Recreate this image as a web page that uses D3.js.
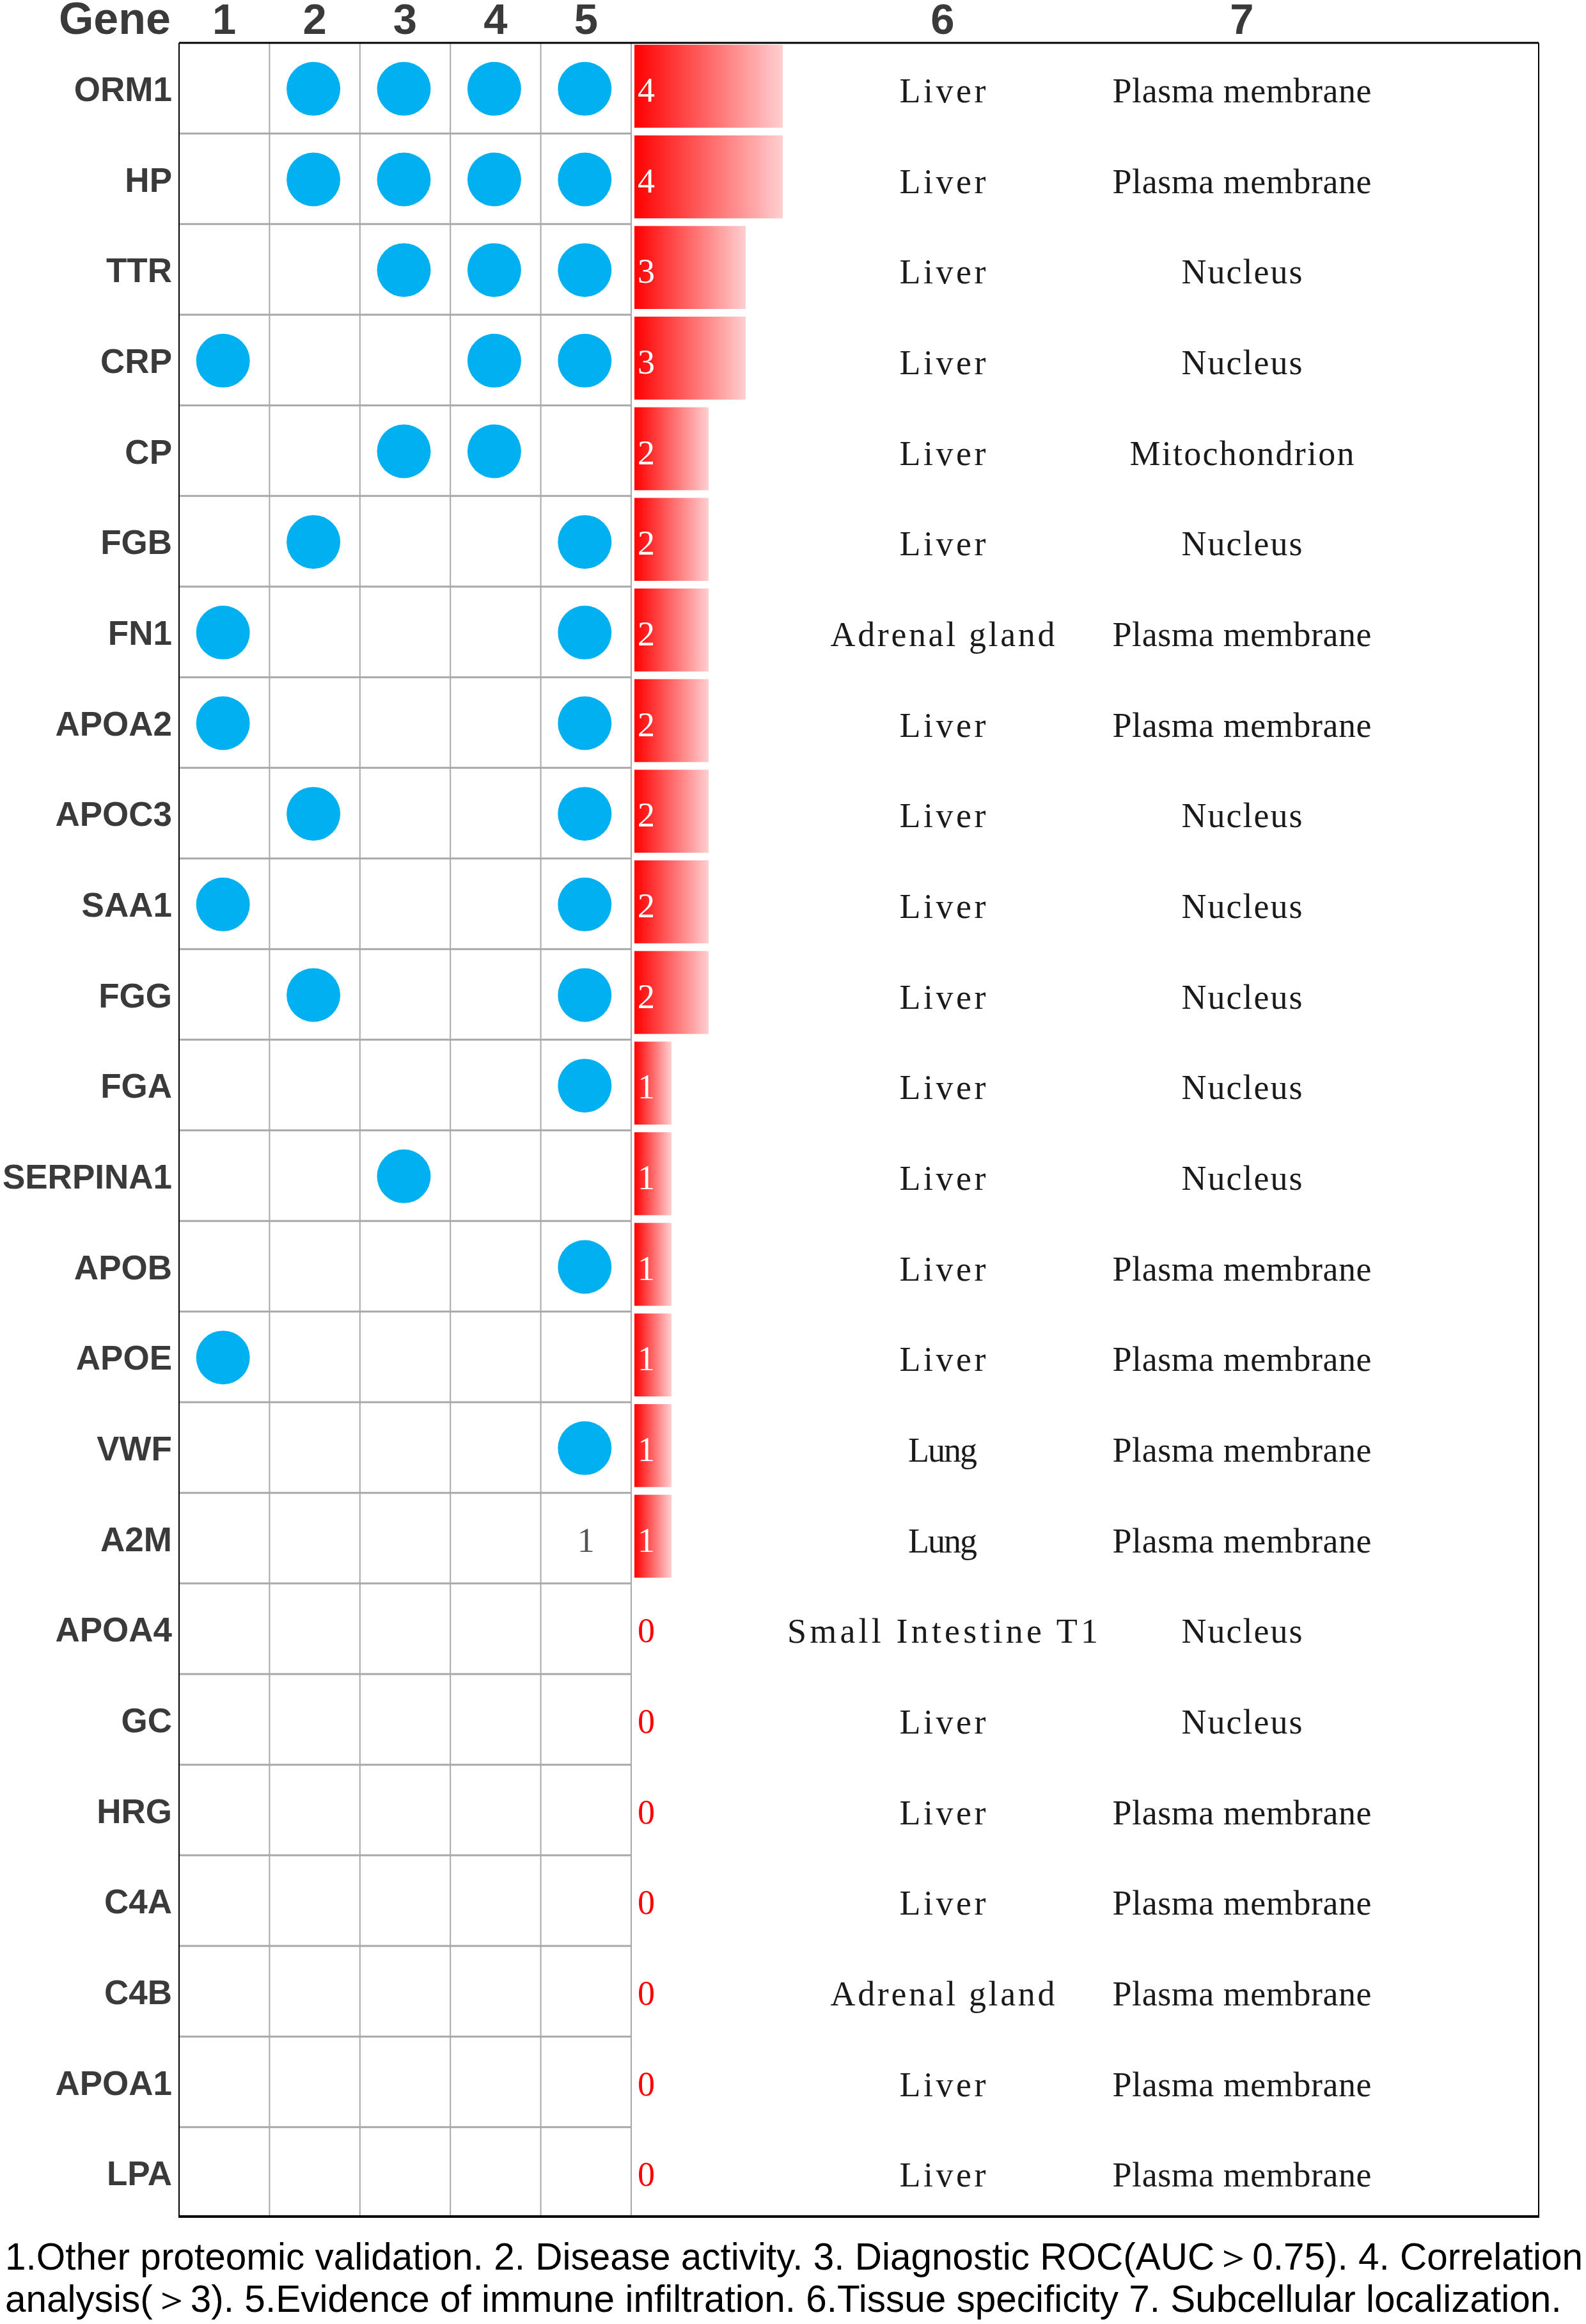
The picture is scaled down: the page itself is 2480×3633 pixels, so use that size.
<!DOCTYPE html>
<html>
<head>
<meta charset="utf-8">
<script src="https://cdn.jsdelivr.net/npm/d3@7"></script>
<style>
  body { margin: 0; background: #fff; }
</style>
</head>
<body>
<div id="chart"></div>
<script>
/* DATA */
const genes = ["ORM1", "HP", "TTR", "CRP", "CP", "FGB", "FN1", "APOA2", "APOC3", "SAA1", "FGG", "FGA",
  "SERPINA1", "APOB", "APOE", "VWF", "A2M", "APOA4", "GC", "HRG", "C4A", "C4B", "APOA1", "LPA"];
const evidenceCols = [1, 2, 3, 4, 5];
// which of columns 1-5 have a dot, per gene
const evidence = [
  [2, 3, 4, 5], [2, 3, 4, 5], [3, 4, 5], [1, 4, 5], [3, 4], [2, 5], [1, 5], [1, 5], [2, 5], [1, 5], [2, 5], [5],
  [3], [5], [1], [5], [], [], [], [], [], [], [], []
];
// A2M shows a plain "1" in column 5 instead of a dot
const textMarks = [{ gene: "A2M", col: 5, label: "1" }];
const scores = [4, 4, 3, 3, 2, 2, 2, 2, 2, 2, 2, 1, 1, 1, 1, 1, 1, 0, 0, 0, 0, 0, 0, 0];
const tissue = ["Liver", "Liver", "Liver", "Liver", "Liver", "Liver", "Adrenal gland", "Liver", "Liver", "Liver",
  "Liver", "Liver", "Liver", "Liver", "Liver", "Lung", "Lung", "Small Intestine T1", "Liver", "Liver", "Liver",
  "Adrenal gland", "Liver", "Liver"];
const subcellular = ["Plasma membrane", "Plasma membrane", "Nucleus", "Nucleus", "Mitochondrion", "Nucleus",
  "Plasma membrane", "Plasma membrane", "Nucleus", "Nucleus", "Nucleus", "Nucleus", "Nucleus", "Plasma membrane",
  "Plasma membrane", "Plasma membrane", "Plasma membrane", "Nucleus", "Nucleus", "Plasma membrane",
  "Plasma membrane", "Plasma membrane", "Plasma membrane", "Plasma membrane"];
const headerLabels = ["1", "2", "3", "4", "5", "6", "7"];
const captionLines = [
  "1.Other proteomic validation. 2. Disease activity. 3. Diagnostic ROC(AUC＞0.75). 4. Correlation",
  "analysis(＞3). 5.Evidence of immune infiltration. 6.Tissue specificity 7. Subcellular localization."
];

/* LAYOUT */
const width = 2480, height = 3633;
const gridLeft = 280, gridTop = 67, gridBottom = 3467, gridRight = 2406;
const dotRight = 987;
const col6X = 1474, col7X = 1942;
const boldFont = "'Liberation Sans', Arial, sans-serif";
const serifFont = "'Liberation Serif', 'DejaVu Serif', serif";
const serifSize = 54, charW = 27; // half-width glyph advance, like the original CJK serif

const rows = genes.map((g, i) => ({
  gene: g, dots: evidence[i], score: scores[i], tissue: tissue[i], loc: subcellular[i]
}));

// SCALES
const yScale = d3.scaleBand().domain(genes).range([gridTop, gridBottom]);
const xScale = d3.scaleBand().domain(evidenceCols).range([gridLeft, dotRight]);
const barScale = d3.scaleLinear().domain([0, 4]).range([dotRight + 5, dotRight + 237]);
const rowH = yScale.bandwidth();

const svg = d3.select("#chart")
  .append("svg")
  .attr("width", width)
  .attr("height", height)
  .style("background", "#fff");

const defs = svg.append("defs");
const grad = defs.append("linearGradient")
  .attr("id", "barGrad")
  .attr("x1", "0%").attr("x2", "100%").attr("y1", "0%").attr("y2", "0%");
grad.append("stop").attr("offset", "0%").attr("stop-color", "#ff0000");
grad.append("stop").attr("offset", "100%").attr("stop-color", "#ffcfd0");

// GRID LINES
svg.selectAll("line.vgrid")
  .data(evidenceCols.slice(1))
  .join("line")
  .attr("class", "vgrid")
  .attr("x1", d => xScale(d)).attr("x2", d => xScale(d))
  .attr("y1", gridTop).attr("y2", gridBottom)
  .attr("stroke", "#a8a8a8")
  .attr("stroke-width", 2);

svg.append("line")
  .attr("x1", dotRight).attr("x2", dotRight)
  .attr("y1", gridTop).attr("y2", gridBottom)
  .attr("stroke", "#a8a8a8")
  .attr("stroke-width", 2);

svg.selectAll("line.hgrid")
  .data(genes.slice(1))
  .join("line")
  .attr("class", "hgrid")
  .attr("x1", gridLeft).attr("x2", dotRight)
  .attr("y1", d => yScale(d)).attr("y2", d => yScale(d))
  .attr("stroke", "#a8a8a8")
  .attr("stroke-width", 3);

// outer frame
svg.append("line").attr("x1", gridLeft).attr("x2", gridLeft).attr("y1", gridTop).attr("y2", gridBottom)
  .attr("stroke", "#000").attr("stroke-width", 2);
svg.append("line").attr("x1", gridRight).attr("x2", gridRight).attr("y1", gridTop).attr("y2", gridBottom)
  .attr("stroke", "#000").attr("stroke-width", 2);
svg.append("line").attr("x1", gridLeft).attr("x2", gridRight).attr("y1", gridTop).attr("y2", gridTop)
  .attr("stroke", "#000").attr("stroke-width", 3);
svg.append("line").attr("x1", gridLeft).attr("x2", gridRight).attr("y1", gridBottom - 2).attr("y2", gridBottom - 2)
  .attr("stroke", "#000").attr("stroke-width", 4);

// HEADER
const headerX = evidenceCols.map(c => xScale(c) + xScale.bandwidth() / 2).concat([col6X, col7X]);
svg.append("text")
  .attr("x", 267).attr("y", 53)
  .attr("text-anchor", "end")
  .attr("font-family", boldFont).attr("font-weight", "bold").attr("font-size", 70)
  .attr("fill", "#3a3a3a")
  .text("Gene");
svg.selectAll("text.head")
  .data(headerLabels)
  .join("text")
  .attr("class", "head")
  .attr("x", (d, i) => headerX[i]).attr("y", 53)
  .attr("text-anchor", "middle")
  .attr("font-family", boldFont).attr("font-weight", "bold").attr("font-size", 67)
  .attr("fill", "#3a3a3a")
  .text(d => d);

// GENE LABELS
svg.selectAll("text.gene")
  .data(rows)
  .join("text")
  .attr("class", "gene")
  .attr("x", 269)
  .attr("y", d => yScale(d.gene) + rowH / 2 + 20)
  .attr("text-anchor", "end")
  .attr("font-family", boldFont).attr("font-weight", "bold").attr("font-size", 53)
  .attr("fill", "#3a3a3a")
  .text(d => d.gene);

// DOTS
const dots = rows.flatMap(r => r.dots.map(c => ({ gene: r.gene, col: c })));
svg.selectAll("circle.dot")
  .data(dots)
  .join("circle")
  .attr("class", "dot")
  .attr("cx", d => xScale(d.col) + xScale.bandwidth() / 2 - 2)
  .attr("cy", d => yScale(d.gene) + rowH / 2 + 1)
  .attr("r", 42)
  .attr("fill", "#00b0f0");

svg.selectAll("text.mark")
  .data(textMarks)
  .join("text")
  .attr("class", "mark")
  .attr("x", d => xScale(d.col) + xScale.bandwidth() / 2)
  .attr("y", d => yScale(d.gene) + rowH / 2 + 21)
  .attr("text-anchor", "middle")
  .attr("font-family", serifFont).attr("font-size", serifSize)
  .attr("fill", "#555")
  .text(d => d.label);

// BARS
svg.selectAll("rect.bar")
  .data(rows.filter(d => d.score > 0))
  .join("rect")
  .attr("class", "bar")
  .attr("x", barScale(0))
  .attr("y", d => yScale(d.gene) + 3)
  .attr("width", d => barScale(d.score) - barScale(0))
  .attr("height", rowH - 12)
  .attr("fill", "url(#barGrad)");

svg.selectAll("text.score")
  .data(rows)
  .join("text")
  .attr("class", "score")
  .attr("x", barScale(0) + 5)
  .attr("y", d => yScale(d.gene) + rowH / 2 + 21)
  .attr("font-family", serifFont).attr("font-size", serifSize)
  .attr("fill", d => d.score > 0 ? "#fff" : "#ff0000")
  .text(d => d.score);

// TISSUE / LOCATION
svg.selectAll("text.tissue")
  .data(rows)
  .join("text")
  .attr("class", "tissue")
  .attr("x", col6X)
  .attr("y", d => yScale(d.gene) + rowH / 2 + 22)
  .attr("text-anchor", "middle")
  .attr("font-family", serifFont).attr("font-size", serifSize)
  .attr("textLength", d => d.tissue.length * charW)
  .attr("lengthAdjust", "spacing")
  .attr("fill", "#1a1a1a")
  .text(d => d.tissue);

svg.selectAll("text.loc")
  .data(rows)
  .join("text")
  .attr("class", "loc")
  .attr("x", col7X)
  .attr("y", d => yScale(d.gene) + rowH / 2 + 22)
  .attr("text-anchor", "middle")
  .attr("font-family", serifFont).attr("font-size", serifSize)
  .attr("textLength", d => d.loc.length * charW)
  .attr("lengthAdjust", "spacing")
  .attr("fill", "#1a1a1a")
  .text(d => d.loc);

// CAPTION
svg.selectAll("text.caption")
  .data(captionLines)
  .join("text")
  .attr("class", "caption")
  .attr("x", 8)
  .attr("y", (d, i) => 3548 + i * 66)
  .attr("font-family", "'Liberation Sans', Arial, sans-serif").attr("font-size", 58.5)
  .attr("fill", "#000")
  .text(d => d);
</script>
</body>
</html>
